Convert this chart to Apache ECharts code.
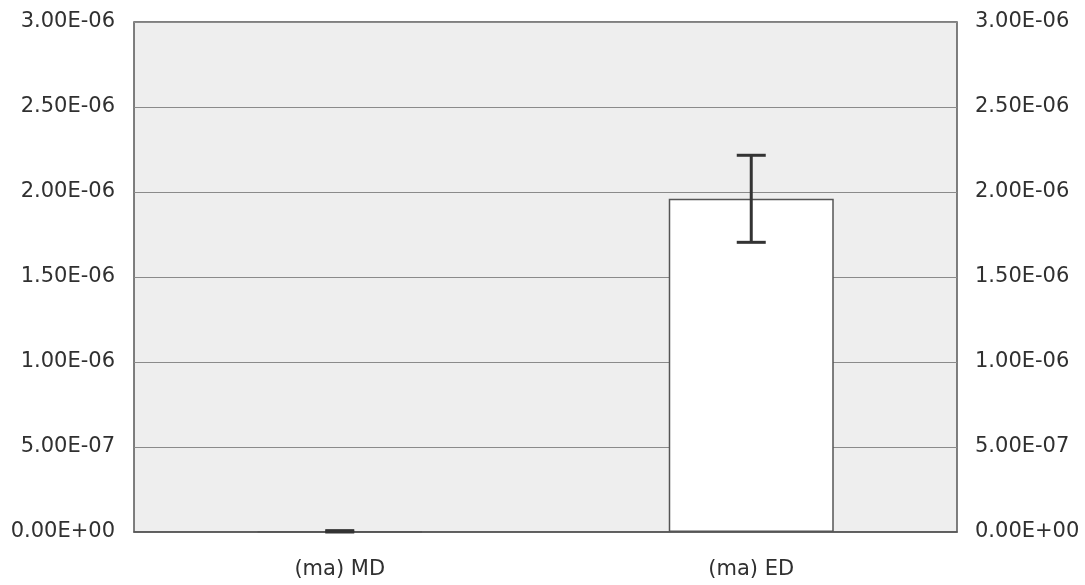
<!DOCTYPE html>
<html>
<head>
<meta charset="utf-8">
<script src="https://cdn.jsdelivr.net/npm/echarts@6/dist/echarts.min.js"></script>
<style>
  html, body { margin: 0; padding: 0; background: #fff; }
  #chart { width: 1085px; height: 585px; }
</style>
</head>
<body>
<div id="chart"></div>
<script>
// Group means and their error half-widths
const categories = ['(ma) MD', '(ma) ED'];
const means = [4e-9, 1.96e-6];
const errors = [4e-9, 0.256e-6];

// Excel-style scientific label: 2.50E-06, 0.00E+00
function sci(v) {
  if (Math.abs(v) < 1e-20) return '0.00E+00';
  const parts = v.toExponential(2).split('e');
  const exp = parseInt(parts[1], 10);
  const sign = exp < 0 ? '-' : '+';
  const e = String(Math.abs(exp)).padStart(2, '0');
  return parts[0] + 'E' + sign + e;
}

const labelStyle = {
  color: '#303030',
  fontFamily: 'DejaVu Sans, sans-serif',
  fontSize: 21
};

const yAxisBase = {
  type: 'value',
  min: 0,
  max: 3e-6,
  interval: 5e-7,
  axisLine: { show: false },
  axisTick: { show: false }
};

const chart = echarts.init(document.getElementById('chart'), null, { renderer: 'canvas' });

chart.setOption({
  animation: false,
  backgroundColor: '#ffffff',
  grid: {
    left: 134,
    right: 128,
    top: 22,
    bottom: 53,
    show: true,
    backgroundColor: '#eeeeee',
    borderColor: '#555',
    borderWidth: 1.5
  },
  xAxis: {
    type: 'category',
    data: categories,
    axisLine: { show: true, lineStyle: { color: '#555', width: 1.5 } },
    axisTick: { show: false },
    axisLabel: Object.assign({ margin: 27 }, labelStyle),
    splitLine: { show: false }
  },
  yAxis: [
    Object.assign({}, yAxisBase, {
      position: 'left',
      axisLabel: Object.assign({ formatter: sci, margin: 19 }, labelStyle),
      splitLine: { show: true, lineStyle: { color: '#8a8a8a', width: 1.2 } }
    }),
    Object.assign({}, yAxisBase, {
      position: 'right',
      splitLine: { show: false },
      axisLabel: Object.assign({ formatter: sci, margin: 18, align: 'left' }, labelStyle)
    })
  ],
  series: [
    {
      type: 'bar',
      data: means,
      barWidth: 165,
      itemStyle: { color: '#ffffff', borderColor: '#555', borderWidth: 1.5 },
      z: 2
    },
    {
      type: 'custom',
      data: means.map((m, i) => [i, m - errors[i], m + errors[i]]),
      z: 3,
      renderItem: function (params, api) {
        const x = api.value(0);
        const lo = api.coord([x, api.value(1)]);
        const hi = api.coord([x, api.value(2)]);
        const half = 14.5;
        const style = { stroke: '#333', lineWidth: 3 };
        return {
          type: 'group',
          children: [
            { type: 'line', shape: { x1: hi[0], y1: hi[1], x2: lo[0], y2: lo[1] }, style: style },
            { type: 'line', shape: { x1: hi[0] - half, y1: hi[1], x2: hi[0] + half, y2: hi[1] }, style: style },
            { type: 'line', shape: { x1: lo[0] - half, y1: lo[1], x2: lo[0] + half, y2: lo[1] }, style: style }
          ]
        };
      }
    }
  ]
});
</script>
</body>
</html>
